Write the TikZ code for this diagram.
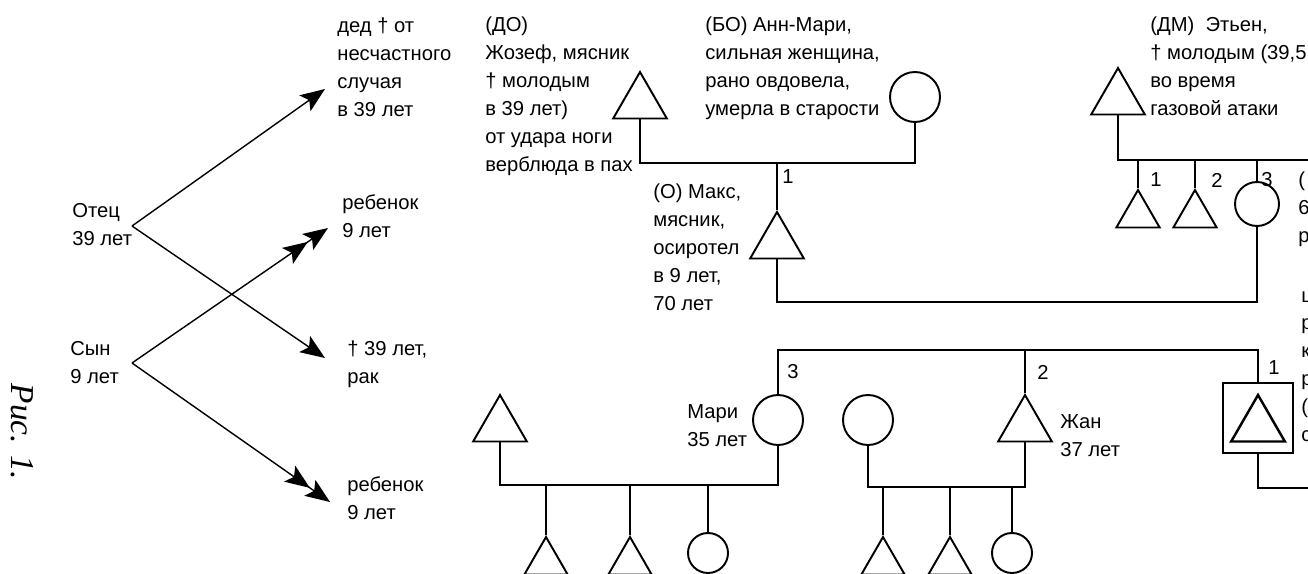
\documentclass[tikz,border=0pt]{standalone}
\usepackage{fontspec}
\setmainfont{Liberation Sans}
\newfontfamily\capfont{Liberation Serif}
\usetikzlibrary{arrows.meta,shapes.geometric}
\tikzset{
	male/.style={draw, regular polygon, regular polygon sides=3, minimum size=1.24cm, inner sep=0pt, line width=1.1pt},
	kid/.style={male, minimum size=1cm},
	female/.style={draw, circle, minimum size=1cm, inner sep=0pt, line width=1.1pt},
	girl/.style={female, minimum size=0.8cm},
	lbl/.style={anchor=north west, inner sep=0pt, align=left, font=\fontsize{11.5}{15.9}\selectfont},
	num/.style={inner sep=0pt, font=\fontsize{11.5}{14}\selectfont},
	link/.style={line width=1.1pt},
	arr/.style={line width=0.8pt, -{Stealth[length=14pt,width=11pt,inset=3pt]}},
	arrtwo/.style={line width=0.8pt, -{Stealth[length=14pt,width=11pt,inset=3pt]Stealth[length=14pt,width=11pt,inset=3pt]}}
}

\begin{document}
\begin{tikzpicture}[x=0.02cm, y=-0.02cm]
			%%%%% START %%%%%
			\useasboundingbox (0,0) rectangle (1308,574);
			
			% left: father and son
			\node[lbl] (otec) at (72, 203) {Отец\\39 лет};
			\node[lbl] (syn) at (70, 341) {Сын\\9 лет};
			\node[lbl] (ded) at (337, 18) {дед † от\\несчастного\\случая\\в 39 лет};
			\node[lbl] (reb1) at (342, 194) {ребенок\\9 лет};
			\node[lbl] (smert) at (347, 341) {† 39 лет,\\рак};
			\node[lbl] (reb2) at (347, 476) {ребенок\\9 лет};
			\node[rotate=-90, inner sep=0pt, font=\capfont\itshape\fontsize{19}{19}\selectfont] (fig) at (22, 432) {Рис. 1.};
			
			\coordinate (vOtec) at (132, 226);
			\coordinate (vSyn) at (132, 363);
			\coordinate (tDed) at (325, 89);
			\coordinate (tReb1) at (328, 228);
			\coordinate (tSmert) at (325, 358);
			\coordinate (tReb2) at (330, 502);
			\draw[arr] (vOtec) -- (tDed);
			\draw[arr] (vOtec) -- (tSmert);
			\draw[arrtwo] (vSyn) -- (tReb1);
			\draw[arrtwo] (vSyn) -- (tReb2);
			
			% grandparents
			\node[lbl] (joslbl) at (485, 17) {(ДО)\\Жозеф, мясник\\† молодым\\в 39 лет)\\от удара ноги\\верблюда в пах};
			\node[male] (jos) at (640, 103) {};
			\node[lbl] (annlbl) at (705, 17) {(БО) Анн-Мари,\\сильная женщина,\\рано овдовела,\\умерла в старости};
			\node[female] (ann) at (915, 97) {};
			\coordinate (mJos) at (777, 163);
			\draw[link] (jos.south) |- (mJos) -| (ann.south);
			
			\node[lbl] (eti) at (1150, 17) {(ДМ)\ \ Этьен,\\† молодым (39,5\\во время\\газовой атаки};
			\node[male] (etien) at (1118, 99) {};
			\coordinate (mEti) at (1320, 160);
			\draw[link] (etien.south) |- (mEti);
			
			% Etienne's children
			\node[kid] (ek1) at (1138, 215) {};
			\node[kid] (ek2) at (1195, 215) {};
			\node[female, minimum size=0.88cm] (ek3) at (1257, 204) {};
			\draw[link] (ek1.north) -- (ek1.north |- mEti);
			\draw[link] (ek2.north) -- (ek2.north |- mEti);
			\draw[link] (ek3.north) -- (ek3.north |- mEti);
			\node[num] (e1) at (1156, 180) {1};
			\node[num] (e2) at (1217, 180) {2};
			\node[num] (e3) at (1267, 180) {3};
			\node[lbl] (cut1) at (1298, 172) {(\\6\\р};
			
			% Max
			\node[male] (max) at (777, 243) {};
			\node[lbl] (maxlbl) at (653, 184) {(О) Макс,\\мясник,\\осиротел\\в 9 лет,\\70 лет};
			\node[num] (n1) at (788, 177) {1};
			\draw[link] (mJos) -- (max.north);
			\coordinate (mMax) at (777, 302);
			\draw[link] (max.south) -- (mMax) -| (ek3.south);
			
			% Max's children
			\node[female] (mari) at (778, 420) {};
			\node[lbl] (marilbl) at (687, 404) {Мари\\35 лет};
			\node[male] (jean) at (1025, 426) {};
			\node[lbl] (jeanlbl) at (1060, 414) {Жан\\37 лет};
			\node[draw, minimum size=1.4cm, inner sep=0pt, line width=1.4pt] (box) at (1258, 418) {};
			\node[male, line width=1.4pt] (boxm) at (1258, 426) {};
			\coordinate (mSib) at (1025, 350);
			\draw[link] (mari.north) |- (mSib) -| (box.north);
			\draw[link] (jean.north) -- (mSib);
			\node[num] (s3) at (793, 372) {3};
			\node[num] (s2) at (1043, 372) {2};
			\node[num] (s1) at (1274, 368) {1};
			\node[lbl] (cut2) at (1301, 291) {ш\\р\\к\\р\\(\\с};
			\coordinate (mBox) at (1320, 488);
			\draw[link] (box.south) |- (mBox);
			
			% Mari's family
			\node[male] (mhus) at (500, 426) {};
			\coordinate (mMari) at (640, 485);
			\draw[link] (mhus.south) |- (mMari) -| (mari.south);
			\node[kid] (mk1) at (546, 562) {};
			\node[kid] (mk2) at (630, 562) {};
			\node[girl] (mk3) at (708, 553) {};
			\draw[link] (mk1.north) -- (mk1.north |- mMari);
			\draw[link] (mk2.north) -- (mk2.north |- mMari);
			\draw[link] (mk3.north) -- (mk3.north |- mMari);
			
			% Jean's family
			\node[female] (jwife) at (868, 420) {};
			\coordinate (mJean) at (950, 487);
			\draw[link] (jwife.south) |- (mJean) -| (jean.south);
			\node[kid] (jk1) at (883, 562) {};
			\node[kid] (jk2) at (950, 562) {};
			\node[girl] (jk3) at (1012, 553) {};
			\draw[link] (jk1.north) -- (jk1.north |- mJean);
			\draw[link] (jk2.north) -- (jk2.north |- mJean);
			\draw[link] (jk3.north) -- (jk3.north |- mJean);
			%%%%% END %%%%%
\end{tikzpicture}
\end{document}
